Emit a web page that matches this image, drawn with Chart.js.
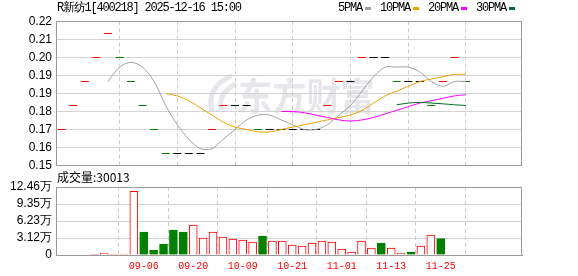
<!DOCTYPE html>
<html><head><meta charset="utf-8">
<script src="https://cdn.jsdelivr.net/npm/chart.js@4.4.1/dist/chart.umd.min.js"></script>
<style>
html,body{margin:0;padding:0;background:#fff;width:578px;height:276px;overflow:hidden;}
#wrap{position:relative;width:578px;height:276px;}
canvas{position:absolute;left:0;top:0;}
.mono{position:absolute;font:12px "Liberation Mono",monospace;letter-spacing:-1.2px;color:#000;white-space:nowrap;line-height:14px;}
#legend{position:absolute;left:338px;top:1px;display:flex;align-items:center;height:14px;}
#legend .sw{display:inline-block;width:6px;height:3px;margin:0 9px 0 3px;}
#volTitle{position:absolute;left:57px;top:169px;font:12px "Noto Sans CJK SC",sans-serif;color:#000;white-space:nowrap;line-height:16px;}
</style></head><body>
<div id="wrap">
<canvas id="price" width="578" height="276"></canvas>
<canvas id="vol" width="578" height="276"></canvas>
<div class="mono" id="title" style="left:57px;top:1px;"></div>
<div id="legend" class="mono" style="left:338px;"></div>
<div id="volTitle"></div>
</div>
<script>
// ---------- data ----------
const titleText = 'R新纺1[400218] 2025-12-16 15:00';
const volumeTitle = '成交量:30013';
const categories = ['','','','','','09-06','','','','','09-20','','','','','10-09','','','','','10-21','','','','','11-01','','','','','11-13','','','','','11-25'];
const closes = [0.17,0.18,0.19,0.20,0.21,0.20,0.19,0.18,0.17,0.16,0.16,0.16,0.16,0.17,0.18,0.18,0.18,0.17,0.17,0.17,0.17,0.17,0.17,0.18,0.19,0.19,0.20,0.20,0.20,0.19,0.19,0.19,0.18,0.19,0.20,0.19];
// r = up (red), g = down (green), k = unchanged (black)
const dirs = ['r','r','r','r','r','g','g','g','g','g','k','k','k','r','r','k','k','g','k','k','k','k','k','r','r','k','r','k','k','g','k','k','g','r','r','g'];
const volumes = [1200,3600,1800,1800,116700,42000,9100,20000,45600,42000,54700,31000,42000,32800,29200,27400,23700,34700,25500,25500,18200,16400,21900,25500,23700,10900,5500,25500,12800,21900,12800,3600,5500,16400,36500,30013];
const ma5  = [null,null,null,null,0.190,0.196,0.198,0.196,0.190,0.180,0.172,0.166,0.162,0.162,0.166,0.170,0.174,0.176,0.176,0.174,0.172,0.170,0.170,0.172,0.176,0.180,0.186,0.192,0.196,0.196,0.196,0.194,0.190,0.188,0.190,0.190];
const ma10 = [null,null,null,null,null,null,null,null,null,0.185,0.184,0.182,0.179,0.176,0.173,0.171,0.170,0.169,0.169,0.170,0.171,0.172,0.173,0.174,0.175,0.176,0.178,0.181,0.184,0.186,0.188,0.190,0.191,0.192,0.193,0.193];
const ma20 = [null,null,null,null,null,null,null,null,null,null,null,null,null,null,null,null,null,null,null,0.1775,0.1775,0.177,0.176,0.175,0.174,0.1735,0.174,0.175,0.1765,0.178,0.1795,0.181,0.182,0.183,0.184,0.1845];
const ma30 = [null,null,null,null,null,null,null,null,null,null,null,null,null,null,null,null,null,null,null,null,null,null,null,null,null,null,null,null,null,0.1803,0.181,0.1813,0.181,0.1807,0.1803,0.180];
const maNames = ['5PMA','10PMA','20PMA','30PMA'];
const maColors = ['#a0a0a0','#f0a000','#ff00ff','#006e30'];
const priceTickLabels = ['0.15','0.16','0.17','0.18','0.19','0.19','0.20','0.21','0.22'];
const priceMin = 0.155, priceMax = 0.215;
const volTickLabels = ['0','3.12万','6.23万','9.35万','12.46万'];
const volMax = 124600;
const slotCount = 40.35;

// ---------- helpers ----------
const RED = '#ff0000', GREEN = '#008000', BLACK = '#000000';
const dirColor = d => d === 'r' ? RED : (d === 'g' ? GREEN : BLACK);
const pts = arr => arr.map((v, i) => ({x: i, y: v}));
const labelIdx = categories.map((c, i) => c ? i : -1).filter(i => i >= 0);

document.getElementById('title').textContent = titleText;
document.getElementById('volTitle').textContent = volumeTitle;
const lg = document.getElementById('legend');
maNames.forEach((n, i) => {
  const s = document.createElement('span'); s.textContent = n; lg.appendChild(s);
  const w = document.createElement('span'); w.className = 'sw'; w.style.background = maColors[i]; lg.appendChild(w);
});

const framePlugin = {
  id: 'frame',
  beforeDatasetsDraw(chart) {
    const a = chart.chartArea, c = chart.ctx;
    c.save(); c.strokeStyle = '#9a9a9a'; c.lineWidth = 1;
    c.strokeRect(Math.round(a.left) + 0.5, Math.floor(a.top) + 0.5, Math.round(a.right - a.left) - 1, Math.round(a.bottom - a.top));
    c.restore();
  }
};
const watermark = {
  id: 'watermark',
  beforeDraw(chart) {
    const c = chart.ctx;
    c.save();
    c.fillStyle = '#e6e6eb';
    c.font = 'bold 38px "Noto Sans CJK SC"';
    c.textBaseline = 'middle';
    c.translate(238, 96); c.scale(0.9, 1);
    c.fillText('东方财富', 0, 0);
    c.restore();
    c.save();
    c.strokeStyle = '#e6e6eb'; c.lineWidth = 5;
    c.beginPath(); c.moveTo(212, 112); c.quadraticCurveTo(206, 86, 232, 76); c.stroke();
    c.beginPath(); c.moveTo(221, 110); c.quadraticCurveTo(218, 92, 236, 84); c.stroke();
    c.restore();
  }
};

const xCommon = (showLabels) => ({
  type: 'linear', min: -0.5, max: slotCount - 0.5,
  afterBuildTicks: s => { s.ticks = labelIdx.map(v => ({value: v})); },
  grid: {color: '#cccccc', drawTicks: false, lineWidth: 1},
  border: {display: showLabels, color: '#9a9a9a', dash: [4, 3]},
  ticks: {display: showLabels, autoSkip: false, maxRotation: 0, color: RED, padding: 5,
          font: {family: 'Liberation Mono', size: 10}, callback: v => categories[v]}
});
const yFont = {family: 'Liberation Sans', size: 12};

new Chart(document.getElementById('price'), {
  type: 'line',
  data: {datasets: [
    {label: 'K', data: pts(closes), showLine: false, pointStyle: 'line', pointRadius: 4, pointHoverRadius: 4,
     pointBorderWidth: 1, pointBorderColor: dirs.map(dirColor), order: 10},
    {label: maNames[0], data: pts(ma5), borderColor: maColors[0], borderWidth: 1, pointRadius: 0, tension: 0.3, order: 4},
    {label: maNames[1], data: pts(ma10), borderColor: maColors[1], borderWidth: 1, pointRadius: 0, tension: 0.3, order: 3},
    {label: maNames[2], data: pts(ma20), borderColor: maColors[2], borderWidth: 1, pointRadius: 0, tension: 0.3, order: 2},
    {label: maNames[3], data: pts(ma30), borderColor: maColors[3], borderWidth: 1, pointRadius: 0, tension: 0.3, order: 1}
  ]},
  options: {
    responsive: false, animation: false, devicePixelRatio: 1, events: [],
    layout: {padding: {left: 0, right: 56, top: 21.5, bottom: 110.5}},
    plugins: {legend: {display: false}, tooltip: {enabled: false}},
    scales: {
      x: Object.assign(xCommon(false), {afterFit: s => { s.height = 0; }}),
      y: {min: priceMin, max: priceMax,
          afterBuildTicks: s => { s.ticks = priceTickLabels.map((t, k) => ({value: priceMin + k * (priceMax - priceMin) / (priceTickLabels.length - 1)})); },
          afterFit: s => { s.width = 56; },
          ticks: {autoSkip: false, color: '#000', font: yFont, padding: 4, callback: (v, i) => priceTickLabels[i]},
          grid: {color: '#d2d2d2', drawTicks: false},
          border: {display: false}}
    }
  },
  plugins: [watermark, framePlugin]
});

new Chart(document.getElementById('vol'), {
  type: 'bar',
  data: {datasets: [{
    label: '成交量', data: pts(volumes),
    backgroundColor: dirs.map(d => d === 'g' ? GREEN : '#ffffff'),
    borderColor: dirs.map(d => d === 'g' ? GREEN : RED),
    borderWidth: 1, barThickness: 8
  }]},
  options: {
    responsive: false, animation: false, devicePixelRatio: 1, events: [],
    layout: {padding: {left: 0, right: 56, top: 187, bottom: 0}},
    plugins: {legend: {display: false}, tooltip: {enabled: false}},
    scales: {
      x: Object.assign(xCommon(true), {afterFit: s => { s.height = 21; }}),
      y: {min: 0, max: volMax,
          afterBuildTicks: s => { s.ticks = volTickLabels.map((t, k) => ({value: k * volMax / (volTickLabels.length - 1)})); },
          afterFit: s => { s.width = 56; },
          ticks: {autoSkip: false, color: '#000', font: yFont, padding: 4, callback: (v, i) => volTickLabels[i]},
          grid: {color: '#d2d2d2', drawTicks: false},
          border: {display: false}}
    }
  },
  plugins: [framePlugin]
});
</script>
</body></html>
